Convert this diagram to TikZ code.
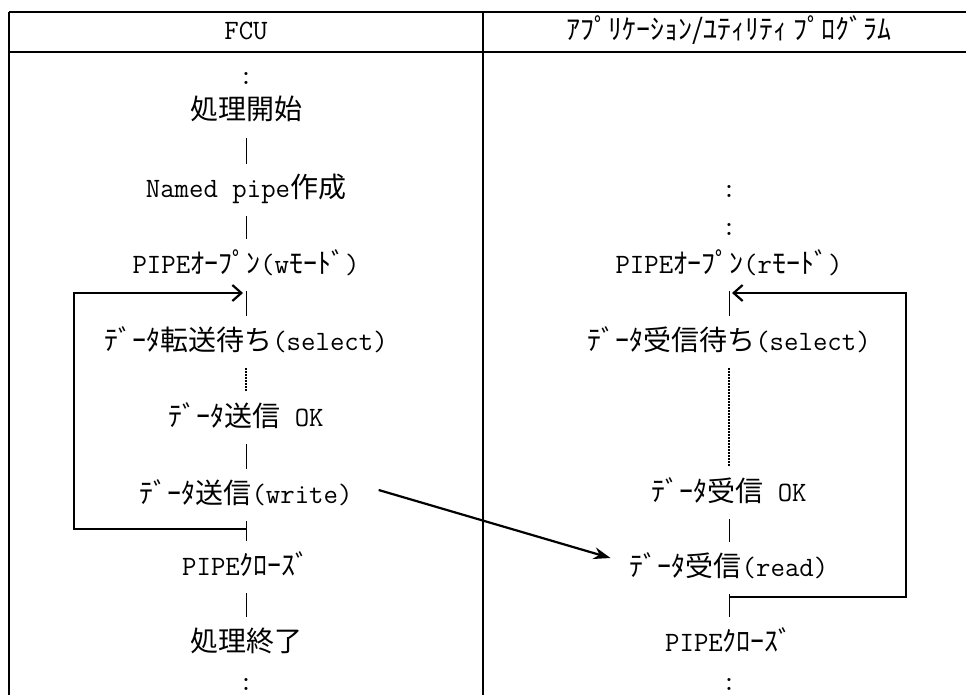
\documentclass[tikz,border=0pt]{standalone}
\usepackage{fontspec}
\newfontfamily\jpfont{Noto Sans CJK JP}
\newcommand{\jt}[1]{{\jpfont\fontsize{28}{28}\selectfont #1}}
\usetikzlibrary{arrows.meta}
\begin{document}
\begin{tikzpicture}[x=1pt,y=-1pt,font=\ttfamily\fontsize{28}{28}\selectfont]

\definecolor{def_line_draw}{RGB}{0,0,0}
\definecolor{def_node_text}{RGB}{0,0,0}
\tikzstyle{step_node_style}=[text=def_node_text,inner xsep=0pt,inner ysep=12pt,text height=22pt,text depth=6pt]
\tikzstyle{frame_style}=[draw=def_line_draw,line width=2pt]
\tikzstyle{flow_edge_style}=[draw=def_line_draw,line width=0.9pt]
\tikzstyle{wait_edge_style}=[draw=def_line_draw,line width=1.6pt,dash pattern=on 1.5pt off 1.5pt]
\tikzstyle{loop_edge_style}=[draw=def_line_draw,line width=2.2pt]

\useasboundingbox (0,0) rectangle (966,695);

% table
\draw[frame_style] (9,12) -- (966,12);
\draw[frame_style] (9,52) -- (966,52);
\draw[frame_style] (9,12) -- (9,695);
\draw[frame_style] (483,12) -- (483,695);

\node(fcu_head) at (246,32) [step_node_style] {FCU};
\node(app_head) at (729,32) [step_node_style] {\jt{ｱﾌﾟﾘｹｰｼｮﾝ/ﾕﾃｨﾘﾃｨ ﾌﾟﾛｸﾞﾗﾑ}};

% FCU side
\node(f_top) at (246,77) [step_node_style] {:};
\node(f_start) at (246,112) [step_node_style] {\jt{処理開始}};
\node(f_named) at (246,190) [step_node_style] {Named pipe\jt{作成}};
\node(f_open) at (246,265) [step_node_style] {PIPE\jt{ｵｰﾌﾟﾝ}(w\jt{ﾓｰﾄﾞ})};
\node(f_select) at (246,342) [step_node_style] {\jt{ﾃﾞｰﾀ転送待ち}(select)};
\node(f_ok) at (246,418) [step_node_style] {\jt{ﾃﾞｰﾀ送信} OK};
\node(f_write) at (246,495) [step_node_style] {\jt{ﾃﾞｰﾀ送信}(write)};
\node(f_close) at (246,567) [step_node_style] {PIPE\jt{ｸﾛｰｽﾞ}};
\node(f_end) at (246,643) [step_node_style] {\jt{処理終了}};
\node(f_bottom) at (246,682) [step_node_style] {:};

% application side
\node(a_top) at (729,190) [step_node_style] {:};
\node(a_top2) at (729,228) [step_node_style] {:};
\node(a_open) at (729,265) [step_node_style] {PIPE\jt{ｵｰﾌﾟﾝ}(r\jt{ﾓｰﾄﾞ})};
\node(a_select) at (729,342) [step_node_style] {\jt{ﾃﾞｰﾀ受信待ち}(select)};
\node(a_ok) at (729,493) [step_node_style] {\jt{ﾃﾞｰﾀ受信} OK};
\node(a_read) at (729,568) [step_node_style] {\jt{ﾃﾞｰﾀ受信}(read)};
\node(a_close) at (729,643) [step_node_style] {PIPE\jt{ｸﾛｰｽﾞ}};
\node(a_bottom) at (729,682) [step_node_style] {:};

\coordinate(f_loop_in) at (243,293);
\coordinate(f_loop_out) at (246,529);
\coordinate(f_loop_side) at (74,529);
\coordinate(a_loop_in) at (732,293);
\coordinate(a_loop_out) at (729,597);
\coordinate(a_loop_side) at (906,597);

\draw[flow_edge_style](f_start) -- (f_named);
\draw[flow_edge_style](f_named) -- (f_open);
\draw[flow_edge_style](f_open) -- (f_select);
\draw[wait_edge_style](f_select) -- (f_ok);
\draw[flow_edge_style](f_ok) -- (f_write);
\draw[flow_edge_style](f_write) -- (f_close);
\draw[flow_edge_style](f_close) -- (f_end);

\draw[flow_edge_style](a_open) -- (a_select);
\draw[wait_edge_style](a_select) -- (a_ok);
\draw[flow_edge_style](a_ok) -- (a_read);
\draw[flow_edge_style](a_read) -- (a_close);

\draw[-{Straight Barb[length=9pt,width=16pt]},loop_edge_style](f_loop_out) -- (f_loop_side) |- (f_loop_in);
\draw[-{Straight Barb[length=9pt,width=16pt]},loop_edge_style](a_loop_out) -- (a_loop_side) |- (a_loop_in);
\draw[-{Stealth[length=17pt,width=12pt]},loop_edge_style]([xshift=26pt,yshift=5pt]f_write.east) -- ([xshift=-19pt,yshift=10pt]a_read.west);

\end{tikzpicture}
\end{document}
